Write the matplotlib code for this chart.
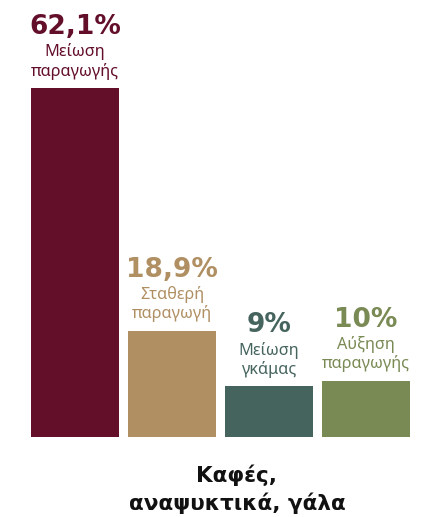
import matplotlib
matplotlib.use('Agg')
import matplotlib.pyplot as plt

plt.rcParams['font.family'] = ['Noto Sans', 'DejaVu Sans']

values = [62.1, 18.9, 9, 10]
value_labels = ['62,1%', '18,9%', '9%', '10%']
line1 = ['Μείωση', 'Σταθερή', 'Μείωση', 'Αύξηση']
line2 = ['παραγωγής', 'παραγωγή', 'γκάμας', 'παραγωγής']
colors = ['#640F2A', '#B08F63', '#46645E', '#7A8A55']
title = 'Καφές,\nαναψυκτικά, γάλα'

W, H = 442, 517
fig = plt.figure(figsize=(W / 100, H / 100), dpi=100)

# axes placed in pixel terms: bars from x=31 to 410, baseline at y=437
ymax = 70
px_per_unit = 349 / 62.1
ax_h = ymax * px_per_unit
ax = fig.add_axes([31 / W, (H - 437) / H, 379 / W, ax_h / H])

x = range(len(values))
width = 88 / 97
ax.bar(x, values, width=width, color=colors)
ax.set_xlim(-width / 2, len(values) - 1 + width / 2)
ax.set_ylim(0, ymax)
ax.axis('off')

for i, v in enumerate(values):
    c = colors[i]
    ax.annotate(value_labels[i], (i, v), xytext=(0, 61), textcoords='offset pixels',
                ha='center', va='center', fontsize=19, fontweight='bold',
                family='DejaVu Sans', color=c)
    ax.annotate(line1[i], (i, v), xytext=(0, 36), textcoords='offset pixels',
                ha='center', va='center', fontsize=11.7, color=c)
    ax.annotate(line2[i], (i, v), xytext=(0, 17), textcoords='offset pixels',
                ha='center', va='center', fontsize=11.7, color=c)

fig.text(237 / W, 1 - 489 / H, title, ha='center', va='center', fontsize=15.5,
         fontweight='bold', family='DejaVu Sans', color='#111111', linespacing=1.4)

fig.savefig('out.png', dpi=100)
